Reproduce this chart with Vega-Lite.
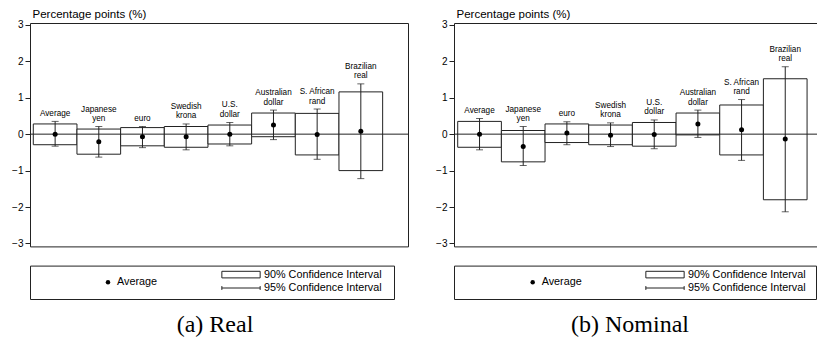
{
  "$schema": "https://vega.github.io/schema/vega-lite/v6.json",
  "padding": {"left": 11, "top": 7, "right": 0, "bottom": 0},
  "background": "white",
  "config": {
    "font": "Liberation Sans",
    "view": {"stroke": "#222", "strokeWidth": 1},
    "axis": {"grid": false}
  },
  "datasets": {
    "fx": [
      {"measure": "Real", "currency": "Average", "line1": "", "line2": "Average", "mean": 0.0, "lo90": -0.29, "hi90": 0.28, "lo95": -0.33, "hi95": 0.35},
      {"measure": "Real", "currency": "Japanese yen", "line1": "Japanese", "line2": "yen", "mean": -0.21, "lo90": -0.55, "hi90": 0.14, "lo95": -0.63, "hi95": 0.21},
      {"measure": "Real", "currency": "euro", "line1": "", "line2": "euro", "mean": -0.07, "lo90": -0.32, "hi90": 0.18, "lo95": -0.37, "hi95": 0.21},
      {"measure": "Real", "currency": "Swedish krona", "line1": "Swedish", "line2": "krona", "mean": -0.07, "lo90": -0.36, "hi90": 0.21, "lo95": -0.43, "hi95": 0.28},
      {"measure": "Real", "currency": "U.S. dollar", "line1": "U.S.", "line2": "dollar", "mean": 0.0, "lo90": -0.27, "hi90": 0.25, "lo95": -0.32, "hi95": 0.32},
      {"measure": "Real", "currency": "Australian dollar", "line1": "Australian", "line2": "dollar", "mean": 0.25, "lo90": -0.07, "hi90": 0.58, "lo95": -0.15, "hi95": 0.66},
      {"measure": "Real", "currency": "S. African rand", "line1": "S. African", "line2": "rand", "mean": -0.01, "lo90": -0.57, "hi90": 0.57, "lo95": -0.69, "hi95": 0.69},
      {"measure": "Real", "currency": "Brazilian real", "line1": "Brazilian", "line2": "real", "mean": 0.08, "lo90": -1.0, "hi90": 1.16, "lo95": -1.22, "hi95": 1.38},
      {"measure": "Nominal", "currency": "Average", "line1": "", "line2": "Average", "mean": 0.0, "lo90": -0.36, "hi90": 0.35, "lo95": -0.43, "hi95": 0.43},
      {"measure": "Nominal", "currency": "Japanese yen", "line1": "Japanese", "line2": "yen", "mean": -0.34, "lo90": -0.76, "hi90": 0.1, "lo95": -0.86, "hi95": 0.21},
      {"measure": "Nominal", "currency": "euro", "line1": "", "line2": "euro", "mean": 0.03, "lo90": -0.23, "hi90": 0.28, "lo95": -0.29, "hi95": 0.34},
      {"measure": "Nominal", "currency": "Swedish krona", "line1": "Swedish", "line2": "krona", "mean": -0.03, "lo90": -0.29, "hi90": 0.25, "lo95": -0.34, "hi95": 0.31},
      {"measure": "Nominal", "currency": "U.S. dollar", "line1": "U.S.", "line2": "dollar", "mean": -0.01, "lo90": -0.33, "hi90": 0.32, "lo95": -0.4, "hi95": 0.39},
      {"measure": "Nominal", "currency": "Australian dollar", "line1": "Australian", "line2": "dollar", "mean": 0.28, "lo90": -0.02, "hi90": 0.58, "lo95": -0.09, "hi95": 0.66},
      {"measure": "Nominal", "currency": "S. African rand", "line1": "S. African", "line2": "rand", "mean": 0.12, "lo90": -0.57, "hi90": 0.8, "lo95": -0.72, "hi95": 0.95},
      {"measure": "Nominal", "currency": "Brazilian real", "line1": "Brazilian", "line2": "real", "mean": -0.13, "lo90": -1.8, "hi90": 1.52, "lo95": -2.13, "hi95": 1.85}
    ],
    "zero": [{"v": 0}],
    "legend": [
      {"entry": "Average", "group": "Average"},
      {"entry": "90% Confidence Interval", "group": "CI"},
      {"entry": "95% Confidence Interval", "group": "CI"}
    ]
  },
  "spacing": 26,
  "hconcat": [
    {
      "bounds": "flush",
      "spacing": 18.6,
      "vconcat": [
        {
          "width": 378,
          "height": 223.4,
          "layer": [
            {
              "data": {"name": "fx"},
              "transform": [{"filter": "datum.measure === 'Real'"}],
              "mark": {"type": "bar", "fill": "white", "stroke": "#222", "strokeWidth": 1},
              "encoding": {
                "x": {"field": "currency", "type": "nominal", "sort": null, "axis": null, "scale": {"type": "band", "paddingInner": 0, "paddingOuter": 0.328, "align": 0.115}},
                "y": {"field": "lo90", "type": "quantitative", "scale": {"domain": [-3.08, 3.05], "nice": false, "zero": false},
                  "axis": {"title": "Percentage points (%)", "values": [-3, -2, -1, 0, 1, 2, 3], "tickCount": 12, "format": "d", "labelOverlap": false, "labelFlush": false, "domain": false, "ticks": true, "tickSize": 5, "tickColor": "#222", "labelFontSize": 10, "labelColor": "black", "labelPadding": 2, "titleAngle": 0, "titleX": 2, "titleY": -6, "titleAlign": "left", "titleBaseline": "alphabetic", "titleFontWeight": "normal", "titleFontSize": 11.5, "titleColor": "black"}},
                "y2": {"field": "hi90"}
              }
            },
            {
              "data": {"name": "zero"},
              "mark": {"type": "rule", "color": "#222", "strokeWidth": 1},
              "encoding": {"y": {"field": "v", "type": "quantitative"}}
            },
            {
              "data": {"name": "fx"},
              "transform": [{"filter": "datum.measure === 'Real'"}],
              "mark": {"type": "rule", "color": "#222", "strokeWidth": 1},
              "encoding": {
                "x": {"field": "currency", "type": "nominal", "sort": null},
                "y": {"field": "lo95", "type": "quantitative"},
                "y2": {"field": "hi95"}
              }
            },
            {
              "data": {"name": "fx"},
              "transform": [{"filter": "datum.measure === 'Real'"}],
              "mark": {"type": "tick", "color": "#222", "size": 7, "thickness": 1},
              "encoding": {
                "x": {"field": "currency", "type": "nominal", "sort": null},
                "y": {"field": "hi95", "type": "quantitative"}
              }
            },
            {
              "data": {"name": "fx"},
              "transform": [{"filter": "datum.measure === 'Real'"}],
              "mark": {"type": "tick", "color": "#222", "size": 7, "thickness": 1},
              "encoding": {
                "x": {"field": "currency", "type": "nominal", "sort": null},
                "y": {"field": "lo95", "type": "quantitative"}
              }
            },
            {
              "data": {"name": "fx"},
              "transform": [{"filter": "datum.measure === 'Real'"}],
              "mark": {"type": "point", "filled": true, "color": "black", "size": 25, "opacity": 1},
              "encoding": {
                "x": {"field": "currency", "type": "nominal", "sort": null},
                "y": {"field": "mean", "type": "quantitative"}
              }
            },
            {
              "data": {"name": "fx"},
              "transform": [{"filter": "datum.measure === 'Real'"}],
              "mark": {"type": "text", "fontSize": 8.2, "baseline": "bottom", "dy": -3.5, "color": "black"},
              "encoding": {
                "x": {"field": "currency", "type": "nominal", "sort": null},
                "y": {"field": "hi95", "type": "quantitative"},
                "text": {"field": "line2"}
              }
            },
            {
              "data": {"name": "fx"},
              "transform": [{"filter": "datum.measure === 'Real'"}],
              "mark": {"type": "text", "fontSize": 8.2, "baseline": "bottom", "dy": -13, "color": "black"},
              "encoding": {
                "x": {"field": "currency", "type": "nominal", "sort": null},
                "y": {"field": "hi95", "type": "quantitative"},
                "text": {"field": "line1"}
              }
            }
          ]
        },
        {
          "width": 364,
          "height": 33.4,
          "data": {"name": "legend"},
          "title": {"text": "(a) Real", "orient": "bottom", "anchor": "middle", "font": "Liberation Serif", "fontSize": 24, "fontWeight": "normal", "color": "black", "offset": 14, "dx": 3},
          "layer": [
            {
              "transform": [{"filter": "datum.group === 'Average'"}],
              "mark": {"type": "point", "filled": true, "color": "black", "size": 20, "opacity": 1},
              "encoding": {"x": {"field": "group", "type": "nominal", "axis": null, "scale": {"type": "point", "domain": ["Average", "CI"], "range": [78, 211], "padding": 0}}}
            },
            {
              "transform": [{"filter": "datum.group === 'Average'"}],
              "mark": {"type": "text", "align": "left", "baseline": "middle", "dx": 9, "fontSize": 10.8, "color": "black"},
              "encoding": {"x": {"field": "group", "type": "nominal"}, "text": {"field": "entry"}}
            },
            {
              "transform": [{"filter": "datum.entry === '90% Confidence Interval'"}],
              "mark": {"type": "point", "shape": "M-1,-0.172H1V0.172H-1Z", "size": 1467, "filled": false, "stroke": "#222", "strokeWidth": 1, "opacity": 1},
              "encoding": {"x": {"field": "group", "type": "nominal"}, "y": {"field": "entry", "type": "nominal", "axis": null, "scale": {"type": "point", "domain": ["90% Confidence Interval", "95% Confidence Interval"], "range": [9, 22.4], "padding": 0}}}
            },
            {
              "transform": [{"filter": "datum.entry === '95% Confidence Interval'"}],
              "mark": {"type": "point", "shape": "M-1,0H1M-1,-0.1V0.1M1,-0.1V0.1", "size": 1467, "filled": false, "stroke": "#222", "strokeWidth": 1, "opacity": 1},
              "encoding": {"x": {"field": "group", "type": "nominal"}, "y": {"field": "entry", "type": "nominal"}}
            },
            {
              "transform": [{"filter": "datum.group === 'CI'"}],
              "mark": {"type": "text", "align": "left", "baseline": "middle", "dx": 23, "fontSize": 10.8, "color": "black"},
              "encoding": {"x": {"field": "group", "type": "nominal"}, "y": {"field": "entry", "type": "nominal"}, "text": {"field": "entry"}}
            }
          ]
        }
      ]
    },
    {
      "bounds": "flush",
      "spacing": 18.6,
      "vconcat": [
        {
          "width": 365,
          "height": 223.4,
          "layer": [
            {
              "data": {"name": "fx"},
              "transform": [{"filter": "datum.measure === 'Nominal'"}],
              "mark": {"type": "bar", "fill": "white", "stroke": "#222", "strokeWidth": 1},
              "encoding": {
                "x": {"field": "currency", "type": "nominal", "sort": null, "axis": null, "scale": {"type": "band", "paddingInner": 0, "paddingOuter": 0.179, "align": 0.237}},
                "y": {"field": "lo90", "type": "quantitative", "scale": {"domain": [-3.08, 3.05], "nice": false, "zero": false},
                  "axis": {"title": "Percentage points (%)", "values": [-3, -2, -1, 0, 1, 2, 3], "tickCount": 12, "format": "d", "labelOverlap": false, "labelFlush": false, "domain": false, "ticks": true, "tickSize": 5, "tickColor": "#222", "labelFontSize": 10, "labelColor": "black", "labelPadding": 2, "titleAngle": 0, "titleX": 2, "titleY": -6, "titleAlign": "left", "titleBaseline": "alphabetic", "titleFontWeight": "normal", "titleFontSize": 11.5, "titleColor": "black"}},
                "y2": {"field": "hi90"}
              }
            },
            {
              "data": {"name": "zero"},
              "mark": {"type": "rule", "color": "#222", "strokeWidth": 1},
              "encoding": {"y": {"field": "v", "type": "quantitative"}}
            },
            {
              "data": {"name": "fx"},
              "transform": [{"filter": "datum.measure === 'Nominal'"}],
              "mark": {"type": "rule", "color": "#222", "strokeWidth": 1},
              "encoding": {
                "x": {"field": "currency", "type": "nominal", "sort": null},
                "y": {"field": "lo95", "type": "quantitative"},
                "y2": {"field": "hi95"}
              }
            },
            {
              "data": {"name": "fx"},
              "transform": [{"filter": "datum.measure === 'Nominal'"}],
              "mark": {"type": "tick", "color": "#222", "size": 7, "thickness": 1},
              "encoding": {
                "x": {"field": "currency", "type": "nominal", "sort": null},
                "y": {"field": "hi95", "type": "quantitative"}
              }
            },
            {
              "data": {"name": "fx"},
              "transform": [{"filter": "datum.measure === 'Nominal'"}],
              "mark": {"type": "tick", "color": "#222", "size": 7, "thickness": 1},
              "encoding": {
                "x": {"field": "currency", "type": "nominal", "sort": null},
                "y": {"field": "lo95", "type": "quantitative"}
              }
            },
            {
              "data": {"name": "fx"},
              "transform": [{"filter": "datum.measure === 'Nominal'"}],
              "mark": {"type": "point", "filled": true, "color": "black", "size": 25, "opacity": 1},
              "encoding": {
                "x": {"field": "currency", "type": "nominal", "sort": null},
                "y": {"field": "mean", "type": "quantitative"}
              }
            },
            {
              "data": {"name": "fx"},
              "transform": [{"filter": "datum.measure === 'Nominal'"}],
              "mark": {"type": "text", "fontSize": 8.2, "baseline": "bottom", "dy": -3.5, "color": "black"},
              "encoding": {
                "x": {"field": "currency", "type": "nominal", "sort": null},
                "y": {"field": "hi95", "type": "quantitative"},
                "text": {"field": "line2"}
              }
            },
            {
              "data": {"name": "fx"},
              "transform": [{"filter": "datum.measure === 'Nominal'"}],
              "mark": {"type": "text", "fontSize": 8.2, "baseline": "bottom", "dy": -13, "color": "black"},
              "encoding": {
                "x": {"field": "currency", "type": "nominal", "sort": null},
                "y": {"field": "hi95", "type": "quantitative"},
                "text": {"field": "line1"}
              }
            }
          ]
        },
        {
          "width": 362,
          "height": 33.4,
          "data": {"name": "legend"},
          "title": {"text": "(b) Nominal", "orient": "bottom", "anchor": "middle", "font": "Liberation Serif", "fontSize": 24, "fontWeight": "normal", "color": "black", "offset": 14, "dx": -5},
          "layer": [
            {
              "transform": [{"filter": "datum.group === 'Average'"}],
              "mark": {"type": "point", "filled": true, "color": "black", "size": 20, "opacity": 1},
              "encoding": {"x": {"field": "group", "type": "nominal", "axis": null, "scale": {"type": "point", "domain": ["Average", "CI"], "range": [78.7, 211], "padding": 0}}}
            },
            {
              "transform": [{"filter": "datum.group === 'Average'"}],
              "mark": {"type": "text", "align": "left", "baseline": "middle", "dx": 9, "fontSize": 10.8, "color": "black"},
              "encoding": {"x": {"field": "group", "type": "nominal"}, "text": {"field": "entry"}}
            },
            {
              "transform": [{"filter": "datum.entry === '90% Confidence Interval'"}],
              "mark": {"type": "point", "shape": "M-1,-0.172H1V0.172H-1Z", "size": 1467, "filled": false, "stroke": "#222", "strokeWidth": 1, "opacity": 1},
              "encoding": {"x": {"field": "group", "type": "nominal"}, "y": {"field": "entry", "type": "nominal", "axis": null, "scale": {"type": "point", "domain": ["90% Confidence Interval", "95% Confidence Interval"], "range": [9, 22.4], "padding": 0}}}
            },
            {
              "transform": [{"filter": "datum.entry === '95% Confidence Interval'"}],
              "mark": {"type": "point", "shape": "M-1,0H1M-1,-0.1V0.1M1,-0.1V0.1", "size": 1467, "filled": false, "stroke": "#222", "strokeWidth": 1, "opacity": 1},
              "encoding": {"x": {"field": "group", "type": "nominal"}, "y": {"field": "entry", "type": "nominal"}}
            },
            {
              "transform": [{"filter": "datum.group === 'CI'"}],
              "mark": {"type": "text", "align": "left", "baseline": "middle", "dx": 23, "fontSize": 10.8, "color": "black"},
              "encoding": {"x": {"field": "group", "type": "nominal"}, "y": {"field": "entry", "type": "nominal"}, "text": {"field": "entry"}}
            }
          ]
        }
      ]
    }
  ]
}
